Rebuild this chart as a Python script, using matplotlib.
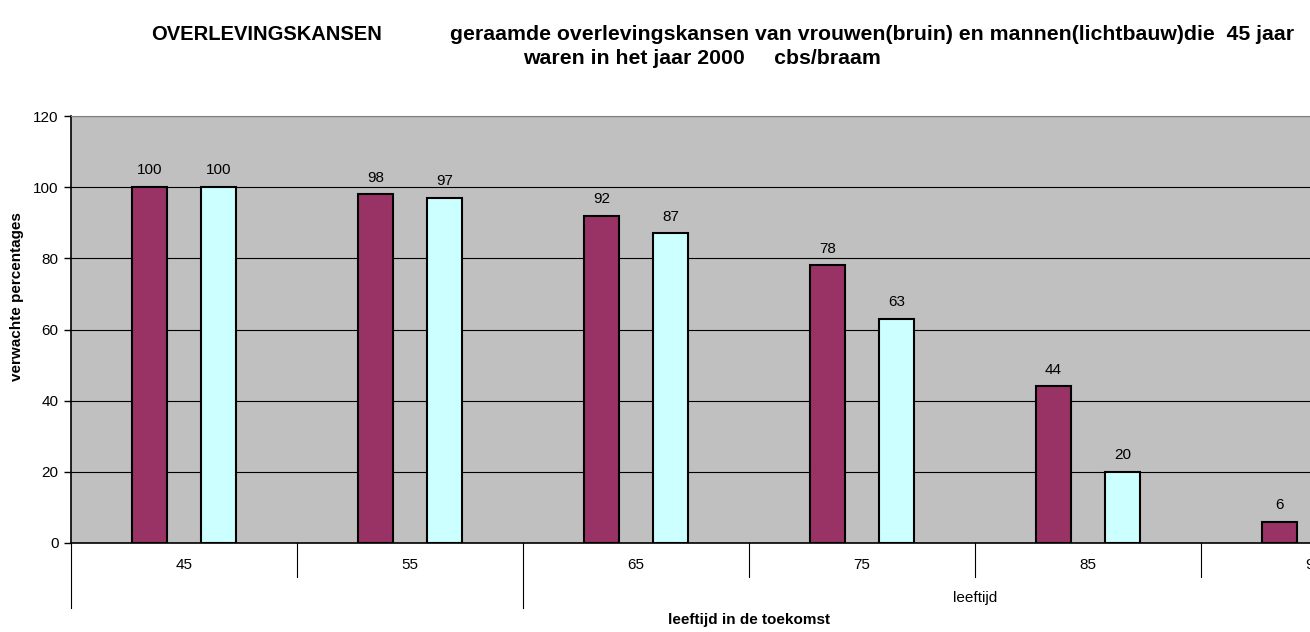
import numpy as np
import matplotlib.pyplot as plt
import matplotlib.transforms as mtransforms

plt.rcParams['font.family'] = ['Liberation Sans', 'DejaVu Sans']

# data
leeftijd = ['45', '55', '65', '75', '85', '95']
vrouwen = [100, 98, 92, 78, 44, 6]
mannen = [100, 97, 87, 63, 20, 0]
group_labels = ['', 'leeftijd']

W, H = 1310, 632
fig = plt.figure(figsize=(W / 100, H / 100), dpi=100)

# plot area runs past the right edge of the picture (95 is cut off)
left, right, top, bottom = 71, 1427, 116, 543
ax = fig.add_axes([left / W, 1 - bottom / H, (right - left) / W, (bottom - top) / H])
ax.set_facecolor('#C0C0C0')

x = np.arange(len(leeftijd))
bw = 0.155
off = 0.153
ax.bar(x - off, vrouwen, bw, color='#993366', edgecolor='black', linewidth=1.5, zorder=3)
mask = np.array(mannen) > 0
ax.bar(x[mask] + off, np.array(mannen)[mask], bw, color='#CCFFFF', edgecolor='black',
       linewidth=1.5, zorder=3)

for xi, v in zip(x, vrouwen):
    ax.annotate(str(v), (xi - off, v), xytext=(0, 7), textcoords='offset points',
                ha='center', va='bottom', fontsize=11)
for xi, v in zip(x[mask], np.array(mannen)[mask]):
    ax.annotate(str(v), (xi + off, v), xytext=(0, 7), textcoords='offset points',
                ha='center', va='bottom', fontsize=11)

ax.set_xlim(-0.5, len(leeftijd) - 0.5)
ax.set_ylim(0, 120)
ax.set_yticks(range(0, 121, 20))
ax.tick_params(axis='y', labelsize=11, length=5, width=1, direction='out', pad=4)
ax.yaxis.grid(True, color='black', linewidth=0.8, zorder=1)
ax.set_axisbelow(True)
ax.spines['right'].set_visible(False)
ax.spines['top'].set_color('#808080')
ax.spines['left'].set_linewidth(1.2)
ax.spines['bottom'].set_linewidth(1.2)

# category axis drawn by hand (two levels)
ax.set_xticks([])
trans = mtransforms.blended_transform_factory(ax.transData, ax.transAxes)
hpx = bottom - top
for i in range(len(leeftijd) + 1):
    xb = i - 0.5
    depth = 65 if i in (0, 2) else 34
    ax.plot([xb, xb], [0, -depth / hpx], transform=trans, color='black',
            linewidth=0.8, clip_on=False)
for xi, lab in zip(x, leeftijd):
    ax.text(xi, -22 / hpx, lab, transform=trans, ha='center', va='center', fontsize=11)
ax.text(3.5, -55 / hpx, group_labels[1], transform=trans, ha='center', va='center', fontsize=11)

fig.text(17 / W, 1 - 297 / H, 'verwachte percentages', rotation=90, ha='center',
         va='center', fontsize=11, fontweight='bold')
fig.text(749 / W, 1 - 620 / H, 'leeftijd in de toekomst', ha='center', va='center',
         fontsize=11, fontweight='bold')

fig.text(267 / W, 1 - 35 / H, 'OVERLEVINGSKANSEN', ha='center', va='center',
         fontsize=14.5, fontweight='bold')
fig.text(872 / W, 1 - 35 / H,
         'geraamde overlevingskansen van vrouwen(bruin) en mannen(lichtbauw)die  45 jaar',
         ha='center', va='center', fontsize=15.3, fontweight='bold')
fig.text(702 / W, 1 - 58 / H, 'waren in het jaar 2000     cbs/braam', ha='center',
         va='center', fontsize=15.3, fontweight='bold')

fig.savefig('out.png', dpi=100)
